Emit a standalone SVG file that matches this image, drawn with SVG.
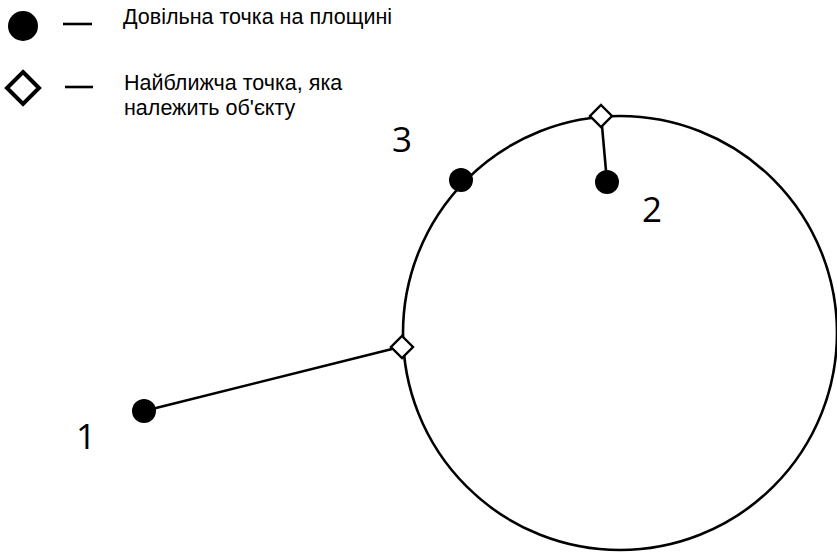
<svg xmlns="http://www.w3.org/2000/svg" width="837" height="552" viewBox="0 0 837 552">
  <style>
    .line { stroke: #000; stroke-width: 2.6; fill: none; }
    .pt { fill: #000; }
    .near { fill: #fff; stroke: #000; stroke-width: 2.4; }
    .lbl { font-family: "Open Sans", "Liberation Sans", sans-serif; font-size: 35px; fill: #000; }
    .leg { font-family: "Liberation Sans", "Open Sans", sans-serif; font-size: 21.5px; fill: #000; }
  </style>
  <defs>
    <path id="dia" d="M0,-11 L11,0 L0,11 L-11,0 Z"/>
  </defs>

  <!-- legend -->
  <g id="legend">
    <circle class="pt" cx="23" cy="26" r="15"/>
    <line class="line" x1="63" y1="24" x2="92" y2="24" stroke-width="3"/>
    <text class="leg" x="123" y="24">Довільна точка на площині</text>
    <path d="M23,72 L39,88 L23,104 L7,88 Z" fill="#fff" stroke="#000" stroke-width="4"/>
    <line class="line" x1="65" y1="87" x2="93" y2="87" stroke-width="3"/>
    <text class="leg" x="124" y="90">Найближча точка, яка</text>
    <text class="leg" x="124" y="115">належить об'єкту</text>
  </g>

  <!-- object -->
  <g id="object">
    <circle class="line" cx="620" cy="333" r="217"/>
  </g>

  <!-- connectors from points to their nearest points on the object -->
  <g id="connectors">
    <line class="line" x1="144" y1="411" x2="392" y2="349"/>
    <line class="line" x1="607" y1="182" x2="602" y2="126"/>
  </g>

  <g id="near-1">
    <use href="#dia" class="near" x="402" y="347"/>
  </g>
  <g id="near-2">
    <use href="#dia" class="near" x="601" y="116"/>
  </g>

  <g id="point-1">
    <circle class="pt" cx="144" cy="411" r="12"/>
    <text class="lbl" x="76" y="449">1</text>
  </g>
  <g id="point-2">
    <circle class="pt" cx="607" cy="182" r="12"/>
    <text class="lbl" x="642" y="222">2</text>
  </g>
  <g id="point-3">
    <circle class="pt" cx="461" cy="180" r="12"/>
    <text class="lbl" x="392" y="152">3</text>
  </g>
</svg>
